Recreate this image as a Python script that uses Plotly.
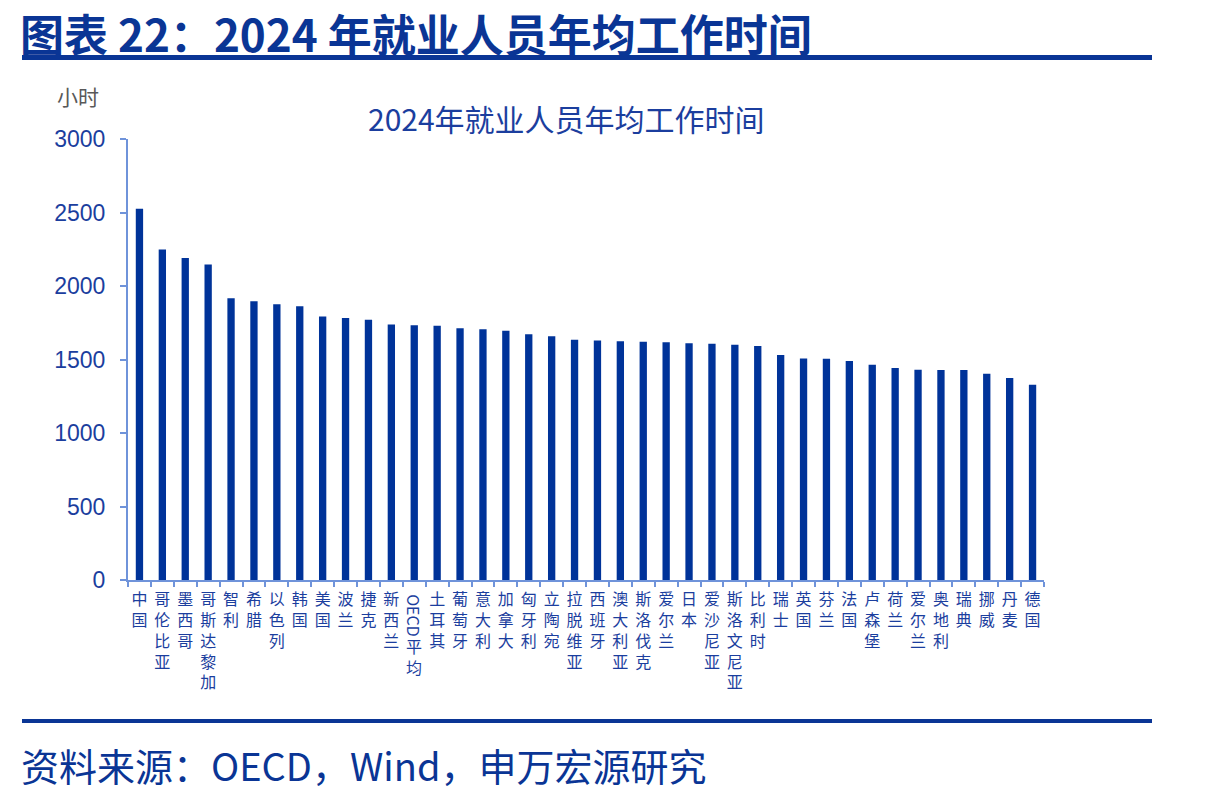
import plotly.graph_objects as go

countries = ["中国", "哥伦比亚", "墨西哥", "哥斯达黎加", "智利", "希腊", "以色列", "韩国", "美国", "波兰",
             "捷克", "新西兰", "OECD平均", "土耳其", "葡萄牙", "意大利", "加拿大", "匈牙利", "立陶宛", "拉脱维亚",
             "西班牙", "澳大利亚", "斯洛伐克", "爱尔兰", "日本", "爱沙尼亚", "斯洛文尼亚", "比利时", "瑞士", "英国",
             "芬兰", "法国", "卢森堡", "荷兰", "爱尔兰", "奥地利", "瑞典", "挪威", "丹麦", "德国"]
hours = [2525, 2249, 2190, 2147, 1917, 1896, 1876, 1862, 1792, 1783,
         1770, 1738, 1733, 1729, 1713, 1706, 1695, 1672, 1659, 1634,
         1629, 1625, 1620, 1618, 1611, 1607, 1600, 1591, 1530, 1507,
         1505, 1489, 1464, 1442, 1431, 1428, 1428, 1403, 1374, 1329]
y_ticks = [0, 500, 1000, 1500, 2000, 2500, 3000]

W, H = 1209, 797
L, R, T, B = 128, 1044, 139, 580

def px(x):
    return (x - L) / (R - L)

def py(y):
    return (B - y) / (B - T)

BAR = "#003399"
AXIS = "#6F93DA"
TXT = "#1B3E9E"
FONT = "Noto Sans CJK SC"

idx = list(range(len(countries)))
ticktext = []
for c in countries:
    if c.startswith("OECD"):
        ticktext.append("")
    else:
        ticktext.append("<br>".join(list(c)))

fig = go.Figure()
fig.add_trace(go.Bar(x=idx, y=hours, marker=dict(color=BAR, line=dict(width=0)), width=0.32))

fig.update_layout(
    width=W, height=H,
    margin=dict(l=L, r=W - R, t=T, b=H - B),
    paper_bgcolor="white", plot_bgcolor="white",
    showlegend=False,
    xaxis=dict(range=[-0.5, len(countries) - 0.5], tickmode="array", tickvals=idx, ticktext=ticktext,
               ticks="", showline=True, linecolor=AXIS, linewidth=2, showgrid=False, zeroline=False,
               tickfont=dict(family=FONT, size=16, color=TXT), tickangle=0, ticklabelstandoff=4,
               minor=dict(tickmode="array", tickvals=[i - 0.5 for i in range(len(countries) + 1)],
                          ticks="outside", ticklen=5, tickcolor=AXIS, tickwidth=2, showgrid=False)),
    yaxis=dict(range=[0, 3000], tickmode="array", tickvals=y_ticks, ticks="outside", ticklen=6,
               tickcolor=AXIS, tickwidth=2, showline=True, linecolor=AXIS, linewidth=2,
               showgrid=False, zeroline=False, ticklabelstandoff=10,
               tickfont=dict(family="Liberation Sans, Arial", size=23, color=TXT)),
)

ann = []
oi = countries.index("OECD平均")
ann.append(dict(x=oi, xref="x", y=py(592), yref="paper", text="OECD", textangle=90, showarrow=False,
                xanchor="center", yanchor="top", font=dict(family=FONT, size=16, color=TXT)))
ann.append(dict(x=oi, xref="x", y=py(632), yref="paper", text="平<br>均", showarrow=False,
                xanchor="center", yanchor="top", font=dict(family=FONT, size=16, color=TXT)))
ann.append(dict(x=px(19), xref="paper", y=py(0), yref="paper", text="<b>图表 22：2024 年就业人员年均工作时间</b>",
                showarrow=False, xanchor="left", yanchor="top", borderpad=0,
                font=dict(family=FONT, size=44, color="#0A3595")))
ann.append(dict(x=px(566), xref="paper", y=py(118), yref="paper", text="2024年就业人员年均工作时间",
                showarrow=False, xanchor="center", yanchor="middle",
                font=dict(family=FONT, size=30, color=TXT)))
ann.append(dict(x=px(78), xref="paper", y=py(96), yref="paper", text="小时",
                showarrow=False, xanchor="center", yanchor="middle",
                font=dict(family=FONT, size=21, color="#595959")))
ann.append(dict(x=px(19), xref="paper", y=py(764), yref="paper", text="资料来源：OECD，Wind，申万宏源研究",
                showarrow=False, xanchor="left", yanchor="middle",
                font=dict(family=FONT, size=38, color="#0A3595")))
fig.update_layout(annotations=ann)

fig.add_shape(type="line", xref="paper", yref="paper", x0=px(22), x1=px(1152), y0=py(57.5), y1=py(57.5),
              line=dict(color="#0A3595", width=5))
fig.add_shape(type="line", xref="paper", yref="paper", x0=px(22), x1=px(1152), y0=py(721), y1=py(721),
              line=dict(color="#0A3595", width=4))

fig.write_html("out.html")
